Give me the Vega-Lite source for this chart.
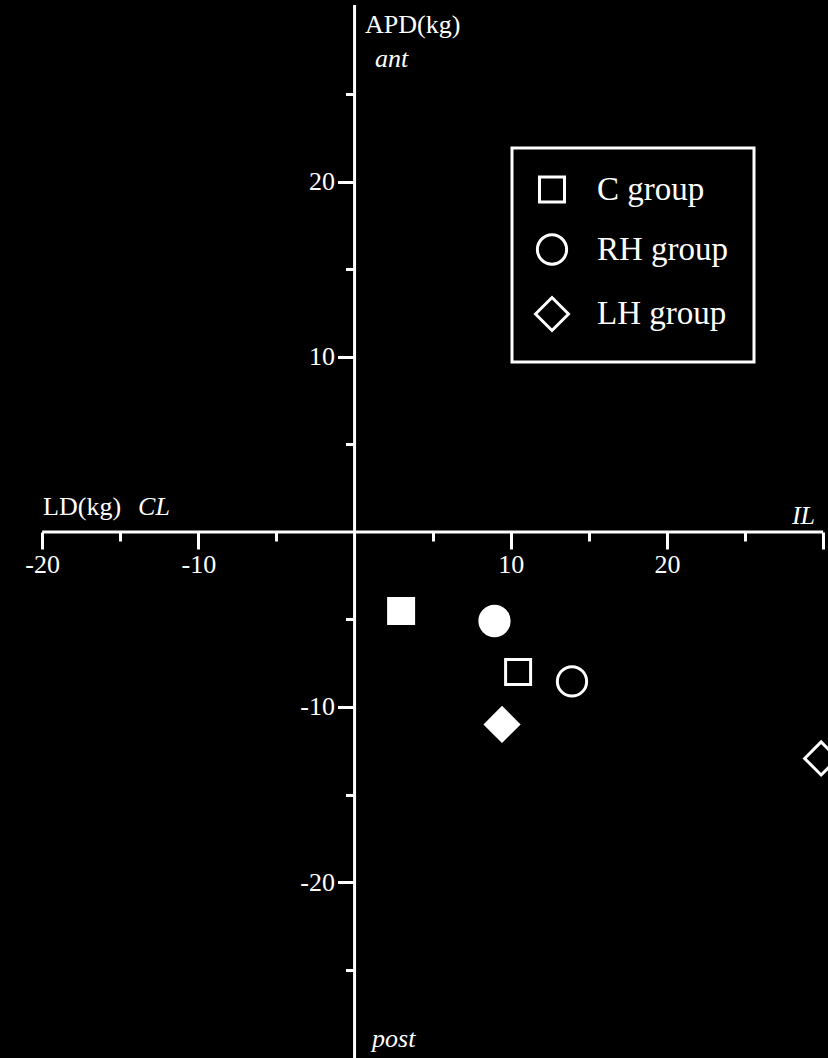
{
  "$schema": "https://vega.github.io/schema/vega-lite/v6.json",
  "width": 828,
  "height": 1058,
  "autosize": {"type": "none"},
  "padding": 0,
  "background": "black",
  "config": {
    "view": {"stroke": null}
  },
  "data": {"values": [{}]},
  "datasets": {
    "points": [
      {"group": "C", "phase": "before", "ld": 2.98, "apd": -4.52},
      {"group": "C", "phase": "after", "ld": 10.47, "apd": -8.0},
      {"group": "RH", "phase": "before", "ld": 8.96, "apd": -5.09},
      {"group": "RH", "phase": "after", "ld": 13.92, "apd": -8.54},
      {"group": "LH", "phase": "before", "ld": 9.44, "apd": -11.0},
      {"group": "LH", "phase": "after", "ld": 29.87, "apd": -12.94}
    ]
  },
  "layer": [
    {
      "data": {"name": "points"},
      "mark": {"type": "point", "filled": true, "stroke": "white", "strokeWidth": 3, "opacity": 1},
      "encoding": {
        "x": {
          "field": "ld", "type": "quantitative",
          "scale": {"domain": [-22.7, 30.31], "nice": false, "zero": false},
          "axis": {
            "orient": "bottom", "offset": -526, "domain": false, "grid": false, "title": null,
            "values": [-20, -15, -10, -5, 5, 10, 15, 20, 25, 30],
            "tickColor": "white", "tickWidth": 3,
            "tickSize": {"condition": {"test": "datum.value % 10 === 0", "value": 17}, "value": 9},
            "labelExpr": "(datum.value % 10 === 0 && datum.value !== 30) ? ('' + datum.value) : ''",
            "labelColor": "white", "labelFont": "Liberation Serif", "labelFontSize": 26,
            "labelPadding": 2, "labelFlush": false, "labelOverlap": false, "labelBound": false
          }
        },
        "y": {
          "field": "apd", "type": "quantitative",
          "scale": {"domain": [-30.05, 30.38], "nice": false, "zero": false},
          "axis": {
            "orient": "left", "offset": -354.5, "domain": false, "grid": false, "title": null,
            "values": [-25, -20, -15, -10, -5, 5, 10, 15, 20, 25],
            "tickColor": "white", "tickWidth": 3,
            "tickSize": {"condition": {"test": "datum.value % 10 === 0", "value": 17}, "value": 9},
            "labelExpr": "(datum.value % 10 === 0) ? ('' + datum.value) : ''",
            "labelColor": "white", "labelFont": "Liberation Serif", "labelFontSize": 26,
            "labelPadding": 3, "labelOverlap": false, "labelBound": false
          }
        },
        "shape": {
          "field": "group", "type": "nominal",
          "scale": {"domain": ["C", "RH", "LH"], "range": ["square", "circle", "diamond"]},
          "legend": {
            "title": null, "orient": "none", "legendX": 512, "legendY": 148,
            "strokeColor": "white", "padding": 25, "rowPadding": 20, "symbolOffset": -3,
            "labelExpr": "datum.label + ' group\u2002\u00a0'",
            "labelColor": "white", "labelFont": "Liberation Serif", "labelFontSize": 33, "labelOffset": 27,
            "symbolStrokeColor": "white", "symbolStrokeWidth": 3, "symbolFillColor": "black", "symbolOpacity": 1,
            "encode": {
              "legend": {"update": {"strokeWidth": {"value": 3}}},
              "symbols": {"update": {"fill": {"value": "black"}, "stroke": {"value": "white"}, "strokeWidth": {"value": 3}, "size": {"scale": "size", "field": "value"}}}
            }
          }
        },
        "size": {
          "field": "group", "type": "nominal",
          "scale": {"domain": ["C", "RH", "LH"], "range": [625, 1089, 1350]},
          "legend": {
            "title": null, "orient": "none", "legendX": 512, "legendY": 148,
            "strokeColor": "white", "padding": 25, "rowPadding": 20, "symbolOffset": -3,
            "labelExpr": "datum.label + ' group\u2002\u00a0'",
            "labelColor": "white", "labelFont": "Liberation Serif", "labelFontSize": 33, "labelOffset": 27,
            "symbolStrokeColor": "white", "symbolStrokeWidth": 3, "symbolFillColor": "black", "symbolOpacity": 1,
            "encode": {
              "legend": {"update": {"strokeWidth": {"value": 3}}},
              "symbols": {"update": {"fill": {"value": "black"}, "stroke": {"value": "white"}, "strokeWidth": {"value": 3}, "size": {"scale": "size", "field": "value"}}}
            }
          }
        },
        "fill": {
          "field": "phase", "type": "nominal",
          "scale": {"domain": ["before", "after"], "range": ["white", "black"]},
          "legend": null
        }
      }
    },
    {
      "mark": {"type": "rule", "color": "white", "strokeWidth": 3},
      "encoding": {
        "x": {"datum": -20, "type": "quantitative"},
        "x2": {"datum": 30},
        "y": {"datum": 0, "type": "quantitative"}
      }
    },
    {
      "mark": {"type": "rule", "color": "white", "strokeWidth": 3},
      "encoding": {
        "x": {"datum": 0, "type": "quantitative"},
        "y": {"datum": 30.09, "type": "quantitative"},
        "y2": {"datum": -30.05}
      }
    },
    {
      "mark": {"type": "text", "text": "APD(kg)", "align": "left", "baseline": "alphabetic", "font": "Liberation Serif", "fontSize": 26, "color": "white"},
      "encoding": {
        "x": {"datum": 0.67, "type": "quantitative"},
        "y": {"datum": 28.49, "type": "quantitative"}
      }
    },
    {
      "mark": {"type": "text", "text": "ant", "align": "left", "baseline": "alphabetic", "font": "Liberation Serif", "fontSize": 26, "fontStyle": "italic", "color": "white"},
      "encoding": {
        "x": {"datum": 1.31, "type": "quantitative"},
        "y": {"datum": 26.57, "type": "quantitative"}
      }
    },
    {
      "mark": {"type": "text", "text": "LD(kg)", "align": "left", "baseline": "alphabetic", "font": "Liberation Serif", "fontSize": 26, "color": "white"},
      "encoding": {
        "x": {"datum": -19.94, "type": "quantitative"},
        "y": {"datum": 0.97, "type": "quantitative"}
      }
    },
    {
      "mark": {"type": "text", "text": "CL", "align": "left", "baseline": "alphabetic", "font": "Liberation Serif", "fontSize": 26, "fontStyle": "italic", "color": "white"},
      "encoding": {
        "x": {"datum": -13.86, "type": "quantitative"},
        "y": {"datum": 0.97, "type": "quantitative"}
      }
    },
    {
      "mark": {"type": "text", "text": "IL", "align": "right", "baseline": "alphabetic", "font": "Liberation Serif", "fontSize": 26, "fontStyle": "italic", "color": "white"},
      "encoding": {
        "x": {"datum": 29.48, "type": "quantitative"},
        "y": {"datum": 0.45, "type": "quantitative"}
      }
    },
    {
      "mark": {"type": "text", "text": "post", "align": "left", "baseline": "alphabetic", "font": "Liberation Serif", "fontSize": 26, "fontStyle": "italic", "color": "white"},
      "encoding": {
        "x": {"datum": 1.12, "type": "quantitative"},
        "y": {"datum": -29.4, "type": "quantitative"}
      }
    }
  ]
}
